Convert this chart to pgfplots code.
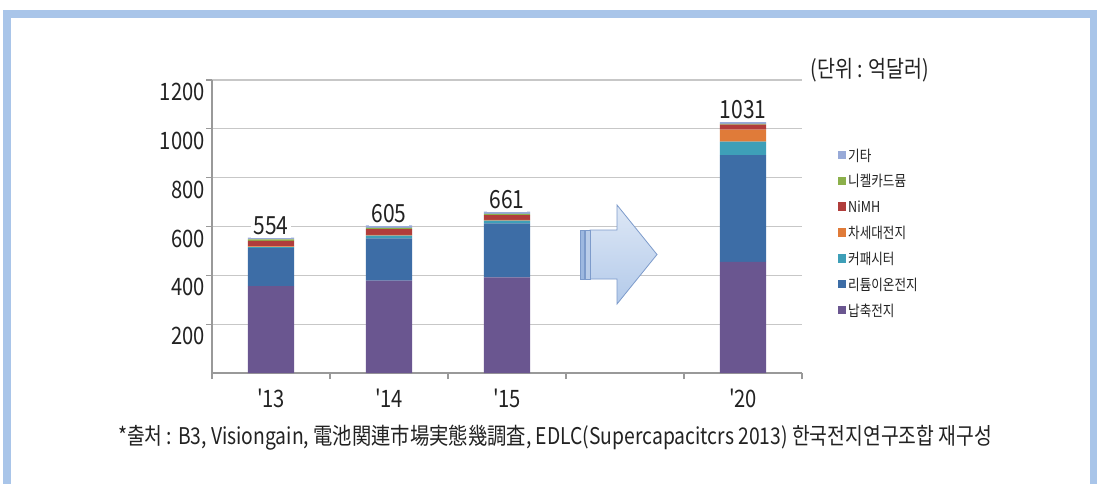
\documentclass[border=0pt]{standalone}
\usepackage{fontspec}
\setmainfont{Noto Sans CJK KR}[FakeStretch=0.84]
\newfontfamily\plainfont{Noto Sans CJK KR}[FakeStretch=0.84]
\usepackage{pgfplots}
\pgfplotsset{compat=1.18}
\definecolor{frameblue}{HTML}{A9C5E9}
\definecolor{cLead}{HTML}{6A5690}
\definecolor{cLi}{HTML}{3D6DA6}
\definecolor{cCap}{HTML}{3E9FB8}
\definecolor{cNext}{HTML}{E07B39}
\definecolor{cNiMH}{HTML}{B03D3B}
\definecolor{cNiCd}{HTML}{8CB04B}
\definecolor{cEtc}{HTML}{98AAD8}
\definecolor{txt}{HTML}{222222}
\definecolor{arrTop}{HTML}{DDE7F5}
\definecolor{arrBot}{HTML}{B3CAEA}
\definecolor{arrLine}{HTML}{7D9BCB}
\definecolor{arrStripe}{HTML}{9DB8E0}
\begin{document}
\begin{tikzpicture}
\useasboundingbox (0,0) rectangle (549.5pt,242pt);
\fill[white] (0,0) rectangle (549.5pt,242pt);
\begin{scope}[x=0.5pt,y=-0.5pt,shift={(0pt,242pt)}]
  % frame
  \fill[frameblue] (3,10) rectangle (1097,18);
  \fill[frameblue] (3,10) rectangle (11,484);
  \fill[frameblue] (1090,10) rectangle (1097,484);
\end{scope}
\begin{axis}[
  at={(106pt,55.5pt)}, anchor=south west,
  scale only axis, width=295pt, height=146.5pt,
  xmin=-0.5, xmax=4.5, ymin=0, ymax=1200,
  ybar stacked, bar width=0.39,
  axis lines*=left,
  axis line style={draw=black!40, line width=0.8pt},
  xtick={0,1,2,4}, xticklabels={{\plainfont'13},{\plainfont'14},{\plainfont'15},{\plainfont'20}},
  minor xtick={-0.5,0.5,1.5,2.5,3.5,4.5},
  ytick={200,400,600,800,1000,1200},
  minor ytick={},
  tick align=outside,
  major tick length=3pt, minor tick length=3pt,
  major x tick style={draw=none},
  minor x tick style={draw=black!40, line width=0.6pt},
  y tick style={draw=black!40, line width=0.6pt},
  ymajorgrids, grid style={draw=black!22, line width=0.6pt},
  /pgf/number format/assume math mode=true,
  /pgf/number format/1000 sep={},
  tick label style={font=\fontsize{12}{14}\selectfont, text=txt, inner sep=0pt},
  yticklabel style={yshift=-6pt, xshift=-0.5pt},
  xticklabel style={yshift=-5pt},
  legend image code/.code={\fill[#1] (0pt,-1.5pt) rectangle (4.3pt,2.8pt);},
  reverse legend,
  legend cell align=left,
  legend style={at={(1.0495,0.798)}, anchor=north west, draw=none, fill=none,
    row sep=0pt,
    nodes={inner sep=1pt, minimum height=12.9pt, font=\fontsize{7.5}{8}\selectfont, text=txt}},
  every axis plot/.append style={draw=none},
]
\addplot[fill=cLead] coordinates {(0,356) (1,378) (2,392) (4,455)};
\addlegendentry{납축전지}
\addplot[fill=cLi] coordinates {(0,155) (1,173) (2,221) (4,437)};
\addlegendentry{리튬이온전지}
\addplot[fill=cCap] coordinates {(0,5) (1,12) (2,11) (4,56)};
\addlegendentry{커패시터}
\addplot[fill=cNext] coordinates {(0,3) (1,3) (2,3) (4,49)};
\addlegendentry{차세대전지}
\addplot[fill=cNiMH] coordinates {(0,22) (1,23) (2,20) (4,20)};
\addlegendentry{NiMH}
\addplot[fill=cNiCd] coordinates {(0,6) (1,5) (2,5) (4,3)};
\addlegendentry{니켈카드뮴}
\addplot[fill=cEtc,
  point meta=explicit symbolic,
  nodes near coords,
  every node near coord/.append style={fill=white, text=txt, font=\fontsize{12.5}{14}\selectfont, inner sep=1.5pt, anchor=south, yshift=0pt}]
  coordinates {(0,7) [554] (1,11) [605] (2,9) [661] (4,11) [1031]};
\addlegendentry{기타}
\end{axis}
\begin{scope}[x=0.5pt,y=-0.5pt,shift={(0pt,242pt)}]
  % arrow
  \shade[top color=arrTop, bottom color=arrBot, draw=arrLine, line width=0.4pt]
    (590,230) -- (617,230) -- (617,205) -- (657,254.5) -- (617,304) -- (617,279) -- (590,279) -- cycle;
  \fill[arrStripe, draw=arrLine, line width=0.4pt] (580,230) rectangle (584.5,279);
  \fill[arrStripe!70!white, draw=arrLine, line width=0.4pt] (585.5,230) rectangle (590,279);
  % unit
  \node[text=txt, font=\fontsize{11.6}{13}\selectfont, inner sep=0pt] at (870,70) {(단위 : 억달러)};
  % source
  \node[text=txt, font=\fontsize{11.5}{13}\selectfont, inner sep=0pt] at (555,438) {*출처 : B3, Visiongain, 電池関連市場実態幾調査, EDLC(Supercapacitcrs 2013) 한국전지연구조합 재구성};
\end{scope}
\end{tikzpicture}
\end{document}
